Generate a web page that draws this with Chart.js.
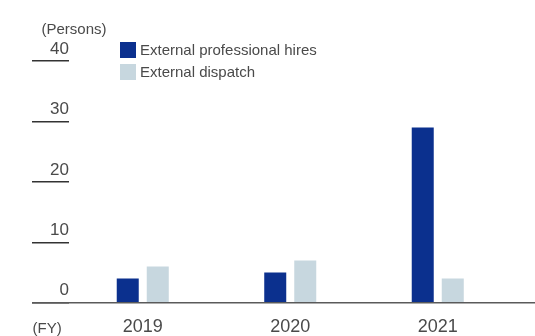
<!DOCTYPE html>
<html>
<head>
<meta charset="utf-8">
<script src="https://cdn.jsdelivr.net/npm/chart.js@4"></script>
<style>
  html, body { margin: 0; padding: 0; background: #fff; }
  #wrap { width: 535px; height: 336px; }
</style>
</head>
<body>
<div id="wrap"><canvas id="c" width="535" height="336"></canvas></div>
<script>
// ---- data ----
const categories = ['2019', '2020', '2021'];
const professionalHires = [4, 5, 29];
const externalDispatch = [6, 7, 4];
const seriesLabels = ['External professional hires', 'External dispatch'];
const yTickValues = [0, 10, 20, 30, 40];
const yUnitLabel = '(Persons)';
const xUnitLabel = '(FY)';

const FONT = "'Liberation Sans', Arial, Helvetica, sans-serif";
const TEXT = '#4a4a4a';
const BLUE = '#0b308e';
const LIGHT = '#c7d7df';

const extras = {
  id: 'extras',
  afterDraw(chart) {
    const ctx = chart.ctx;
    const y = chart.scales.y;
    const y0 = y.getPixelForValue(0);
    ctx.save();
    // baseline
    ctx.strokeStyle = '#5a5a5a';
    ctx.lineWidth = 1.5;
    ctx.beginPath();
    ctx.moveTo(32, y0);
    ctx.lineTo(535, y0);
    ctx.stroke();
    // unit labels
    ctx.fillStyle = TEXT;
    ctx.font = '15px ' + FONT;
    ctx.textAlign = 'left';
    ctx.textBaseline = 'alphabetic';
    ctx.fillText(yUnitLabel, 41.5, 33.5);
    ctx.fillText(xUnitLabel, 32.5, 332.5);
    // legend
    const items = chart.data.datasets;
    items.forEach((ds, i) => {
      const top = 42 + i * 22;
      ctx.fillStyle = ds.backgroundColor;
      ctx.fillRect(120, top, 16, 16);
      ctx.fillStyle = TEXT;
      ctx.textBaseline = 'middle';
      ctx.fillText(ds.label, 140, top + 8.5);
    });
    ctx.restore();
  }
};

new Chart(document.getElementById('c'), {
  type: 'bar',
  data: {
    labels: categories,
    datasets: [
      { label: seriesLabels[0], data: professionalHires, backgroundColor: BLUE },
      { label: seriesLabels[1], data: externalDispatch, backgroundColor: LIGHT }
    ]
  },
  options: {
    responsive: false,
    animation: false,
    devicePixelRatio: 1,
    categoryPercentage: 0.407,
    barPercentage: 0.733,
    layout: { padding: { left: 32, right: 23.5, top: 61, bottom: 0 } },
    plugins: { legend: { display: false }, tooltip: { enabled: false } },
    scales: {
      x: {
        afterFit(scale) { scale.height = 33.3; },
        grid: { display: false, drawTicks: false },
        border: { display: false },
        ticks: {
          color: TEXT,
          font: { family: FONT, size: 18, lineHeight: 1.0 },
          padding: 15.3,
          maxRotation: 0
        }
      },
      y: {
        min: 0,
        max: 40,
        afterFit(scale) { scale.width = 37; },
        afterBuildTicks(scale) { scale.ticks = yTickValues.map(v => ({ value: v })); },
        grid: {
          drawOnChartArea: false,
          drawTicks: true,
          tickLength: 37,
          color: '#333',
          lineWidth: 1.5
        },
        border: { display: false },
        ticks: {
          color: TEXT,
          font: { family: FONT, size: 17 },
          padding: -37,
          labelOffset: -12
        }
      }
    }
  },
  plugins: [extras]
});
</script>
</body>
</html>
